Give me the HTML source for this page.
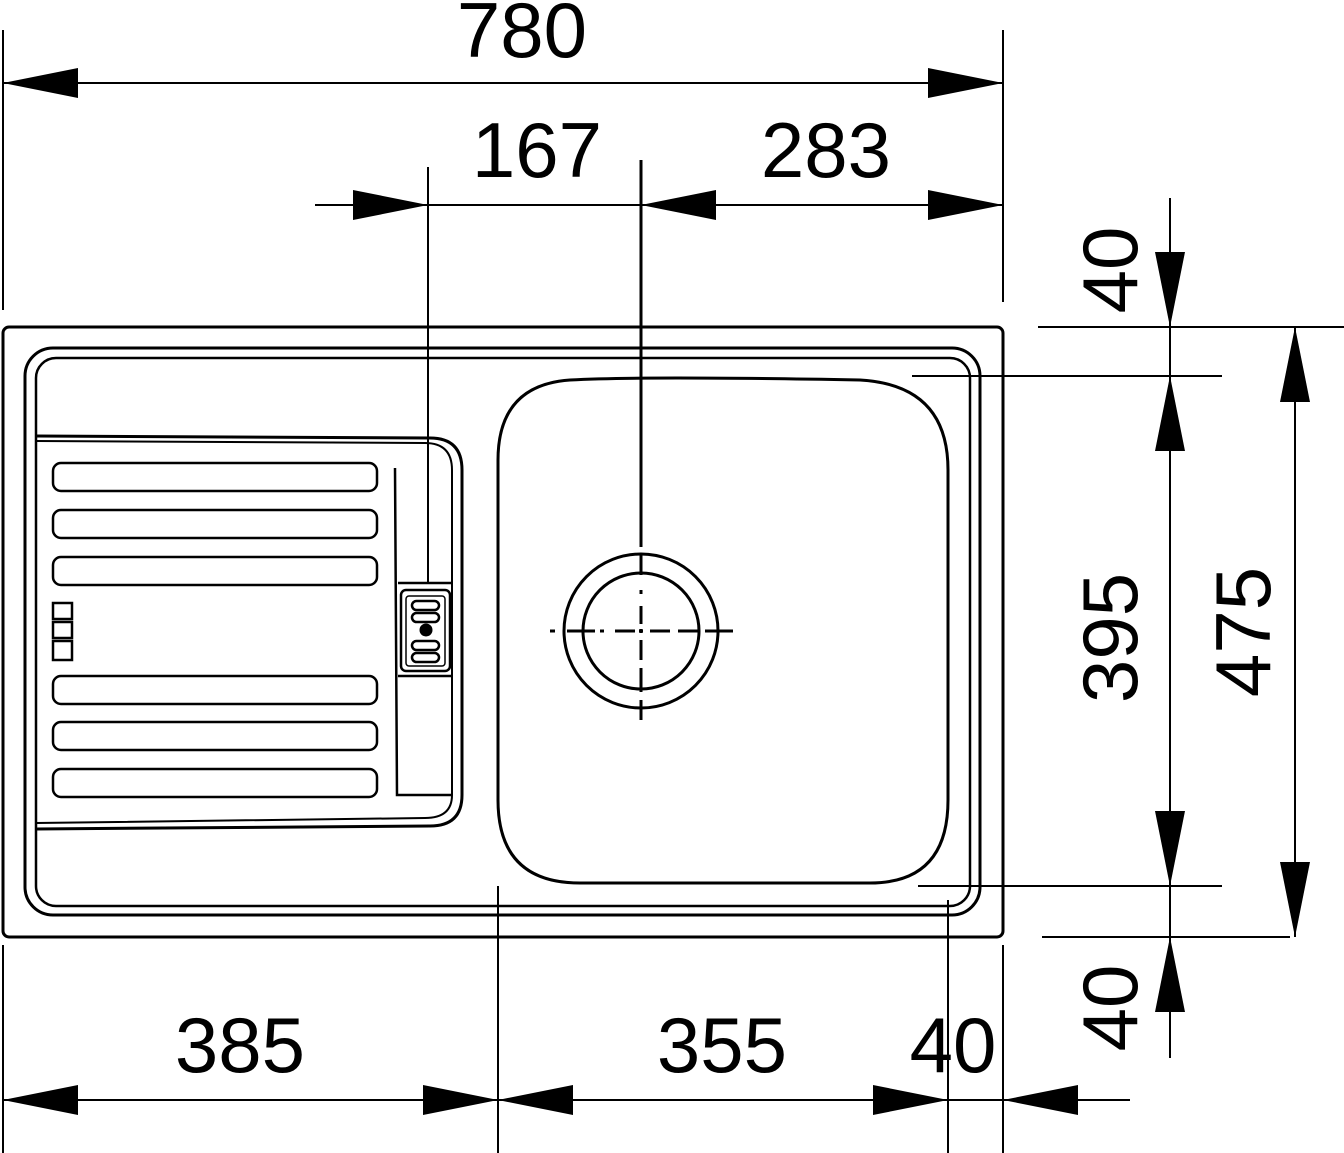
<!DOCTYPE html>
<html><head><style>html,body{margin:0;padding:0;background:#fff}svg{display:block}</style></head>
<body>
<svg width="1344" height="1153" viewBox="0 0 1344 1153" xmlns="http://www.w3.org/2000/svg">
<g fill="none" stroke="#000" stroke-width="3">
<rect x="3" y="327" width="1000" height="610" rx="6"/>
<rect x="25" y="348" width="955" height="567" rx="28"/>
<rect x="36" y="358" width="934" height="548" rx="20" stroke-width="2.5"/>
<path d="M36 436 L430 438 Q462 438 462 470 L462 795 Q462 826 430 826 L36 829"/>
<path d="M36 441 L425 443 Q452 443 452 470 L452 795 Q452 818 425 818 L36 823" stroke-width="2"/>
<g stroke-width="2.5">
<rect x="53" y="463" width="324" height="28" rx="8"/>
<rect x="53" y="510" width="324" height="28" rx="8"/>
<rect x="53" y="557" width="324" height="28" rx="8"/>
<rect x="53" y="676" width="324" height="28" rx="8"/>
<rect x="53" y="722" width="324" height="28" rx="8"/>
<rect x="53" y="769" width="324" height="28" rx="8"/>
<rect x="53" y="603" width="19" height="16"/>
<rect x="53" y="622" width="19" height="16"/>
<rect x="53" y="641" width="19" height="19"/>
<path d="M395 468 L397 795 L452 795"/>
<path d="M398 583 L452 583 M398 676 L452 676"/>
<rect x="401" y="590" width="49" height="81" rx="5"/>
<rect x="406" y="596" width="39" height="70" rx="3" stroke-width="1.5"/>
<rect x="412" y="601" width="27" height="9" rx="4.5"/>
<rect x="412" y="613" width="27" height="9" rx="4.5"/>
<rect x="412" y="641" width="27" height="9" rx="4.5"/>
<rect x="412" y="653" width="27" height="9" rx="4.5"/>
</g>
<circle cx="426" cy="630" r="5" fill="#000"/>
<path d="M570 380 Q641 376 860 380 Q948 385 948 470 L948 800 Q948 883 870 883 L580 883 Q498 883 498 800 L498 460 Q498 385 570 380 Z"/>
<circle cx="641" cy="631" r="77"/>
<circle cx="641" cy="631" r="58"/>
<g stroke-width="2">
<path d="M3 30 L3 310 M1003 30 L1003 302 M3 83 L1003 83"/>
<path d="M315 205 L1003 205 M428 167 L428 583"/>
<path d="M1170 198 L1170 1058 M1038 327 L1344 327 M912 376 L1222 376 M918 886 L1222 886 M1042 937 L1290 937 M1295 327 L1295 937"/>
<path d="M3 945 L3 1153 M498 886 L498 1153 M948 900 L948 1153 M1003 945 L1003 1153 M3 1100 L1130 1100"/>
</g>
<g stroke-width="3">
<path d="M641 160 L641 547 M641 553 L641 575 M641 590 L641 594 M641 606 L641 624 M641 629 L641 633 M641 640 L641 660 M641 668 L641 692 M641 700 L641 720"/>
<path d="M550 631 L555 631 M567 631 L595 631 M600 631 L604 631 M615 631 L635 631 M639 631 L643 631 M650 631 L670 631 M678 631 L700 631 M705 631 L733 631"/>
</g>
</g>
<g fill="#000">
<path d="M3 83 L78 68 L78 98 Z"/><path d="M1003 83 L928 68 L928 98 Z"/>
<path d="M428 205 L353 190 L353 220 Z"/><path d="M641 205 L716 190 L716 220 Z"/><path d="M1003 205 L928 190 L928 220 Z"/>
<path d="M1170 327 L1155 252 L1185 252 Z"/><path d="M1170 376 L1155 451 L1185 451 Z"/>
<path d="M1170 886 L1155 811 L1185 811 Z"/><path d="M1170 937 L1155 1012 L1185 1012 Z"/>
<path d="M1295 327 L1280 402 L1310 402 Z"/><path d="M1295 937 L1280 862 L1310 862 Z"/>
<path d="M3 1100 L78 1085 L78 1115 Z"/><path d="M498 1100 L423 1085 L423 1115 Z"/><path d="M498 1100 L573 1085 L573 1115 Z"/>
<path d="M948 1100 L873 1085 L873 1115 Z"/><path d="M1003 1100 L1078 1085 L1078 1115 Z"/>
</g>
<g font-family="Liberation Sans, sans-serif" font-size="78" fill="#000" text-anchor="middle">
<text x="522" y="57">780</text>
<text x="537" y="177">167</text>
<text x="826" y="177">283</text>
<text x="240" y="1072">385</text>
<text x="722" y="1072">355</text>
<text x="953" y="1072">40</text>
<text transform="translate(1137 270) rotate(-90)">40</text>
<text transform="translate(1137 638) rotate(-90)">395</text>
<text transform="translate(1137 1008) rotate(-90)">40</text>
<text transform="translate(1270 632) rotate(-90)">475</text>
</g>
</svg>
</body></html>
